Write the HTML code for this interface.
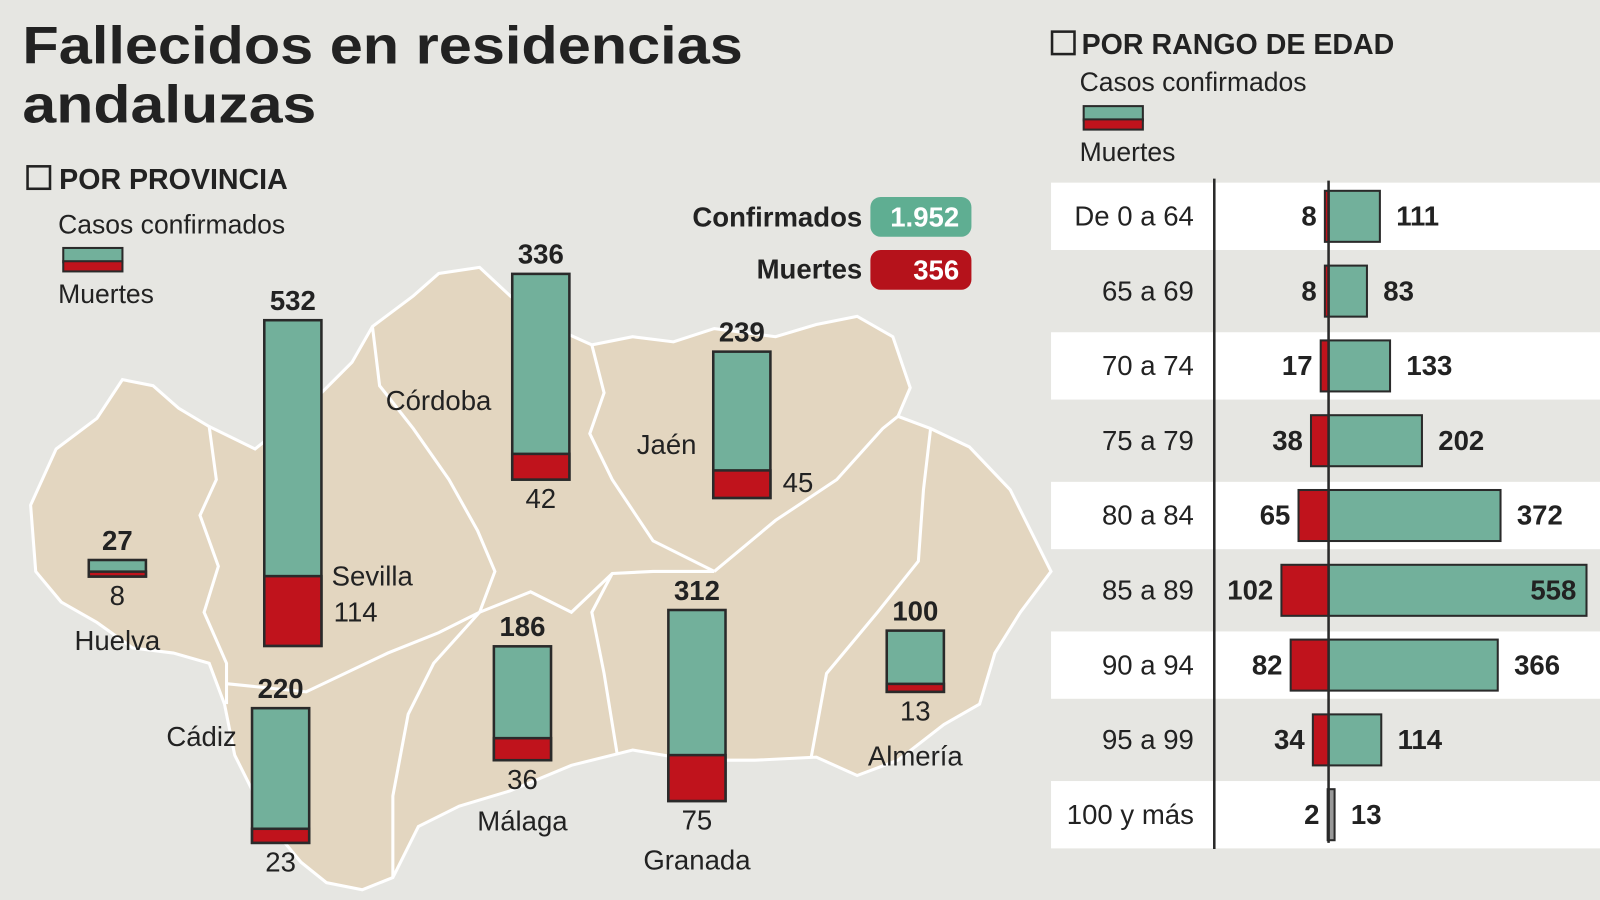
<!DOCTYPE html>
<html><head><meta charset="utf-8"><style>
html,body{margin:0;padding:0;background:#e6e6e2;}
svg{display:block;}
text{font-family:"Liberation Sans Narrow","Liberation Sans",sans-serif;fill:#222;}
.b{font-weight:bold;}
</style></head><body>
<svg id="chart" width="1600" height="900" viewBox="0 0 1568 882" xmlns="http://www.w3.org/2000/svg">
<rect x="0" y="0" width="1568" height="882" fill="#e6e6e2"/>
<g>
<text x="22" y="62" style="font-family:'Liberation Sans',sans-serif;font-weight:bold;font-size:52px" textLength="706" lengthAdjust="spacingAndGlyphs" fill="#1a1a1a">Fallecidos en residencias</text>
<text x="22" y="120" style="font-family:'Liberation Sans',sans-serif;font-weight:bold;font-size:52px" textLength="288" lengthAdjust="spacingAndGlyphs" fill="#1a1a1a">andaluzas</text>
</g>
<g>
<rect x="27" y="163" width="22" height="22" fill="none" stroke="#222" stroke-width="2.5"/>
<text x="58" y="185" class="b" style="font-size:28px">POR PROVINCIA</text>
<text x="57" y="229" style="font-size:26px" fill="#333">Casos confirmados</text>
<rect x="62" y="243" width="58" height="14" fill="#72b09b" stroke="#2a2a2a" stroke-width="2"/>
<rect x="62" y="256" width="58" height="10" fill="#c0131c" stroke="#2a2a2a" stroke-width="2"/>
<text x="57" y="297" style="font-size:26px" fill="#333">Muertes</text>
</g>
<g>
<rect x="1031" y="31" width="22" height="22" fill="none" stroke="#222" stroke-width="2.5"/>
<text x="1060" y="53" class="b" style="font-size:28px">POR RANGO DE EDAD</text>
<text x="1058" y="89" style="font-size:26px" fill="#333">Casos confirmados</text>
<rect x="1062" y="104" width="58" height="14" fill="#72b09b" stroke="#2a2a2a" stroke-width="2"/>
<rect x="1062" y="117" width="58" height="10" fill="#c0131c" stroke="#2a2a2a" stroke-width="2"/>
<text x="1058" y="158" style="font-size:26px" fill="#333">Muertes</text>
</g>
<g>
<path fill="#e3d6c0" stroke="#fff" stroke-width="3" d="M30,495 L55,440 L95,410 L120,372 L150,378 L175,400 L205,418 L250,440 L300,400 L345,355 L365,320 L405,290 L430,268 L470,262 L500,290 L540,320 L580,338 L620,330 L660,335 L700,322 L760,330 L800,318 L840,310 L875,330 L892,380 L880,408 L912,420 L950,438 L990,480 L1010,520 L1030,560 L1000,600 L975,640 L960,690 L925,710 L880,745 L840,760 L800,742 L740,745 L680,745 L620,735 L560,750 L500,775 L450,790 L410,810 L385,860 L355,872 L320,865 L295,845 L270,815 L250,780 L230,740 L220,690 L205,650 L170,640 L130,635 L95,610 L60,590 L35,560 Z"/>
<polyline fill="none" stroke="#fff" stroke-width="3" points="205,418 212,470 196,505 214,555 200,600 222,650 222,690"/>
<polyline fill="none" stroke="#fff" stroke-width="3" points="365,320 372,378 405,420 440,470 468,520 485,560 470,600"/>
<polyline fill="none" stroke="#fff" stroke-width="3" points="580,338 592,385 578,425 600,470 640,530 700,560"/>
<polyline fill="none" stroke="#fff" stroke-width="3" points="700,560 760,510 820,470 865,420 880,408"/>
<polyline fill="none" stroke="#fff" stroke-width="3" points="912,420 905,480 900,550 860,600 810,660 795,742"/>
<polyline fill="none" stroke="#fff" stroke-width="3" points="222,670 300,678 380,640 430,620 470,600"/>
<polyline fill="none" stroke="#fff" stroke-width="3" points="470,600 425,650 400,700 385,780 385,860"/>
<polyline fill="none" stroke="#fff" stroke-width="3" points="470,600 520,580 560,600 600,562 640,560 700,560"/>
<polyline fill="none" stroke="#fff" stroke-width="3" points="600,562 580,600 592,660 605,740"/>
</g>
<g>
<text x="845" y="222" text-anchor="end" class="b" style="font-size:27px">Confirmados</text>
<rect x="853" y="193" width="99" height="39" rx="10" fill="#5fae92"/>
<text x="940" y="222" text-anchor="end" class="b" style="font-size:27px;fill:#fff">1.952</text>
<text x="845" y="273" text-anchor="end" class="b" style="font-size:27px">Muertes</text>
<rect x="853" y="245" width="99" height="39" rx="10" fill="#b5121b"/>
<text x="940" y="274" text-anchor="end" class="b" style="font-size:27px;fill:#fff">356</text>
</g>
<g id="prov"></g>
<g id="age"></g>
</svg>
<script>
var provinces = ["Huelva","Sevilla","Córdoba","Jaén","Cádiz","Málaga","Granada","Almería"];
var provConfirmed = [27,532,336,239,220,186,312,100];
var provDeaths = [8,114,42,45,23,36,75,13];
var ageGroups = ["De 0 a 64","65 a 69","70 a 74","75 a 79","80 a 84","85 a 89","90 a 94","95 a 99","100 y más"];
var ageConfirmed = [111,83,133,202,372,558,366,114,13];
var ageDeaths = [8,8,17,38,65,102,82,34,2];

var NS="http://www.w3.org/2000/svg";
function mk(tag,attrs,parent){var e=document.createElementNS(NS,tag);for(var k in attrs)e.setAttribute(k,attrs[k]);parent.appendChild(e);return e;}
function txt(s,x,y,anchor,size,bold,parent){var t=mk('text',{x:x,y:y,'text-anchor':anchor},parent);t.setAttribute('style','font-size:'+size+'px;'+(bold?'font-weight:bold;':''));t.textContent=s;return t;}

// province layout (map anchor points, not data)
var pCx=[115,287,530,727,275,512,683,897];
var pBottom=[565,633,470,488,826,745,785,678];
var pDeathPos=["below","right","below","right","below","below","below","below"];
var pNamePos=[[115,637,"middle"],[325,574,"start"],[378,402,"start"],[624,445,"start"],[163,731,"start"],[512,814,"middle"],[683,852,"middle"],[897,750,"middle"]];
function ph(v){return v*0.6;}
var pg=document.getElementById('prov');
provinces.forEach(function(name,i){
  var g=mk('g',{},pg);
  
  
  var w=56,x=pCx[i]-w/2,b=pBottom[i],h=ph(provConfirmed[i]),dh=ph(provDeaths[i]);
  var r1=mk('rect',{x:x,y:b-h,width:w,height:h,fill:'#72b09b',stroke:'#2a2a2a','stroke-width':2.5},g);
  
  
  var r2=mk('rect',{x:x,y:b-dh,width:w,height:dh,fill:'#c0131c',stroke:'#2a2a2a','stroke-width':2.5},g);
  
  
  var t1=txt(provConfirmed[i],pCx[i],b-h-10,'middle',27,true,g);
  
  
  var t2;
  if(pDeathPos[i]=="right"){t2=txt(provDeaths[i],x+w+12,b-(i==1?24:6),'start',27,false,g);}
  else{t2=txt(provDeaths[i],pCx[i],b+28,'middle',27,false,g);}
  
  
  var t3=txt(name,pNamePos[i][0],pNamePos[i][1],pNamePos[i][2],27,false,g);
  
  
});

// age chart
var ag=document.getElementById('age');
var axisX=1302,rowTop=179,rowPitch=73.3,barH=50;
function ax(v){return v*0.453;}
ageGroups.forEach(function(lbl,i){
  var cy=rowTop+rowPitch*i+33;
  if(i%2==0){var bg=mk('rect',{x:1030,y:cy-33,width:538,height:66,fill:'#ffffff'},ag);
    
    }
});
var vl=mk('line',{x1:1190,y1:175,x2:1190,y2:832,stroke:'#2a2a2a','stroke-width':2.5},ag);


ageGroups.forEach(function(lbl,i){
  var cy=rowTop+rowPitch*i+33;
  var g=mk('g',{},ag);
  
  
  var lt=txt(lbl,1170,cy+9,'end',27,false,g);
  
  
  lt.setAttribute('fill','#333');
  var cw=ax(ageConfirmed[i]),dw=ax(ageDeaths[i]);
  var h=(i==8)?50:barH;
  var rc=mk('rect',{x:axisX,y:cy-h/2,width:cw,height:h,fill:(i==8?'#999':'#72b09b'),stroke:'#2a2a2a','stroke-width':2},g);
  
  
  var rd=mk('rect',{x:axisX-dw,y:cy-h/2,width:dw,height:h,fill:'#c0131c',stroke:'#2a2a2a','stroke-width':2},g);
  
  
  var dt=txt(ageDeaths[i],axisX-dw-8,cy+9,'end',27,true,g);
  
  
  var ct;
  if(axisX+cw+70>1568){ct=txt(ageConfirmed[i],axisX+cw-10,cy+9,'end',27,true,g);}
  else{ct=txt(ageConfirmed[i],axisX+cw+16,cy+9,'start',27,true,g);}
  
  
});
var axl=mk('line',{x1:axisX,y1:177,x2:axisX,y2:826,stroke:'#2a2a2a','stroke-width':2.5},ag);


</script>
</body></html>
